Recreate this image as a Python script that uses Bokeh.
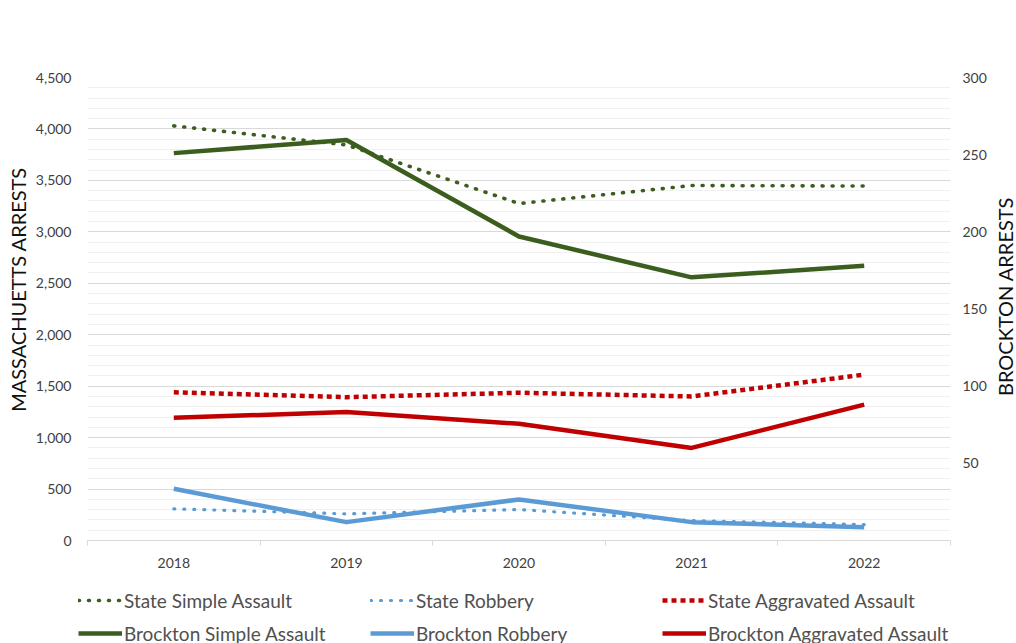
import math
from bokeh.plotting import figure
from bokeh.layouts import column, row
from bokeh.models import (Range1d, LinearAxis, FixedTicker, Legend, LegendItem,
                          NumeralTickFormatter, Label)
from bokeh.embed import file_html
from bokeh.resources import INLINE

years = [2018, 2019, 2020, 2021, 2022]
state_simple = [4030, 3845, 3275, 3450, 3445]
state_robbery = [308, 259, 301, 194, 155]
state_agg = [1441, 1393, 1436, 1400, 1612]
brockton_simple = [251, 259.5, 197, 170.5, 178]
brockton_robbery = [33.5, 11.9, 26.6, 11.9, 8.6]
brockton_agg = [79.5, 83.2, 75.6, 60, 88]

left_ticks = list(range(0, 4501, 500))
left_minor = list(range(0, 4501, 100))
right_ticks = [50, 100, 150, 200, 250, 300]
x_bounds = [2017.5, 2018.5, 2019.5, 2020.5, 2021.5, 2022.5]
left_title = "MASSACHUETTS ARRESTS"
right_title = "BROCKTON ARRESTS"

GREEN = "#3b5e1f"
BLUE = "#5b9bd5"
RED = "#c00000"
FONT = "Lato"
TXT = "#404040"
MAIN_H = 580
LEFT_W = 32
RIGHT_W = 24


def strip(width, height):
    f = figure(width=width, height=height, x_range=Range1d(0, width),
               y_range=Range1d(0, height), output_backend="svg",
               toolbar_location=None, x_axis_type=None, y_axis_type=None,
               min_border=0, min_border_left=0, min_border_right=0,
               min_border_top=0, min_border_bottom=0)
    f.outline_line_color = None
    f.xgrid.visible = False
    f.ygrid.visible = False
    if "frame_align" in f.properties():
        f.frame_align = False
    return f


p = figure(width=1016 - LEFT_W - RIGHT_W, height=MAIN_H,
           x_range=Range1d(2017.5, 2022.5),
           y_range=Range1d(0, 4500), output_backend="svg", toolbar_location=None,
           min_border_left=86 - LEFT_W, min_border_right=66 - RIGHT_W,
           min_border_top=77, min_border_bottom=40)
p.outline_line_color = None
p.background_fill_color = "white"
p.border_fill_color = "white"
if "frame_align" in p.properties():
    p.frame_align = False

# grid
p.xgrid.visible = False
p.ygrid.ticker = FixedTicker(ticks=left_ticks, minor_ticks=left_minor)
p.ygrid.grid_line_color = "#d9d9d9"
p.ygrid.minor_grid_line_color = "#f0f0f0"

# x axis
xa = p.xaxis[0]
xa.ticker = FixedTicker(ticks=years, minor_ticks=x_bounds)
xa.axis_line_color = "#d9d9d9"
xa.major_tick_line_color = None
xa.major_tick_out = 0
xa.minor_tick_line_color = "#d9d9d9"
xa.minor_tick_out = 5
xa.minor_tick_in = 0
xa.major_label_standoff = 12
xa.major_label_text_font = FONT
xa.major_label_text_font_size = "14px"
xa.major_label_text_color = TXT

# left axis
ya = p.yaxis[0]
ya.ticker = FixedTicker(ticks=left_ticks)
ya.formatter = NumeralTickFormatter(format="0,0")
ya.axis_line_color = None
ya.major_tick_line_color = None
ya.minor_tick_line_color = None
ya.major_tick_out = 0
ya.major_label_standoff = 16
ya.major_label_text_font = FONT
ya.major_label_text_font_size = "14px"
ya.major_label_text_color = TXT

# right axis
p.extra_y_ranges = {"right": Range1d(0, 300)}
ra = LinearAxis(y_range_name="right", ticker=FixedTicker(ticks=right_ticks))
ra.axis_line_color = None
ra.major_tick_line_color = None
ra.minor_tick_line_color = None
ra.major_tick_out = 0
ra.major_label_standoff = 12
ra.major_label_text_font = FONT
ra.major_label_text_font_size = "14px"
ra.major_label_text_color = TXT
p.add_layout(ra, "right")

# lines
p.line(years, brockton_simple, y_range_name="right", line_color=GREEN,
       line_width=4.5, line_join="round")
p.line(years, brockton_robbery, y_range_name="right", line_color=BLUE,
       line_width=4.5, line_join="round")
p.line(years, brockton_agg, y_range_name="right", line_color=RED,
       line_width=4.5, line_join="round")
p.line(years, state_simple, line_color=GREEN, line_width=3.6,
       line_dash="1 9", line_cap="round")
p.line(years, state_robbery, line_color=BLUE, line_width=3.2,
       line_dash="1 9", line_cap="round")
p.line(years, state_agg, line_color=RED, line_width=4.5,
       line_dash="5 4", line_cap="butt")

# axis titles in thin side strips
tl = strip(LEFT_W, MAIN_H)
tl.add_layout(Label(x=17, y=MAIN_H - 289, text=left_title, angle=math.pi / 2,
                    text_align="center", text_baseline="middle",
                    text_font=FONT, text_font_size="20px", text_color="#111111"))
tr = strip(RIGHT_W, MAIN_H)
tr.add_layout(Label(x=12, y=MAIN_H - 296, text=right_title, angle=math.pi / 2,
                    text_align="center", text_baseline="middle",
                    text_font=FONT, text_font_size="20px", text_color="#111111"))

# legend strip (key only; its sample lines lie outside the strip's view)
lf = strip(1016, 63)
lf.x_range = Range1d(0, 1)
lf.y_range = Range1d(0, 1)
k_ssa = lf.line(years, state_simple, line_color=GREEN, line_width=3.6,
                line_dash="1 9", line_cap="round")
k_bsa = lf.line(years, brockton_simple, line_color=GREEN, line_width=4.5)
k_sro = lf.line(years, state_robbery, line_color=BLUE, line_width=3.2,
                line_dash="1 9", line_cap="round")
k_bro = lf.line(years, brockton_robbery, line_color=BLUE, line_width=4.5)
k_sag = lf.line(years, state_agg, line_color=RED, line_width=4.5, line_dash="5 4")
k_bag = lf.line(years, brockton_agg, line_color=RED, line_width=4.5)

legend = Legend(items=[
    LegendItem(label="State Simple Assault", renderers=[k_ssa]),
    LegendItem(label="Brockton Simple Assault", renderers=[k_bsa]),
    LegendItem(label="State Robbery", renderers=[k_sro]),
    LegendItem(label="Brockton Robbery", renderers=[k_bro]),
    LegendItem(label="State Aggravated Assault", renderers=[k_sag]),
    LegendItem(label="Brockton Aggravated Assault", renderers=[k_bag]),
], location=(78, -4), ncols=3)
legend.margin = 0
legend.padding = 0
legend.spacing = 5
legend.glyph_width = 44
legend.glyph_height = 28
legend.label_height = 28
legend.label_width = 241
legend.label_standoff = 2
legend.label_text_font = FONT
legend.label_text_font_size = "19px"
legend.label_text_color = "#505050"
legend.label_text_baseline = "middle"
legend.border_line_color = None
legend.background_fill_alpha = 0
lf.add_layout(legend)

layout = column(row(tl, p, tr, spacing=0), lf, spacing=0)
open("out.html", "w").write(file_html(layout, INLINE))
